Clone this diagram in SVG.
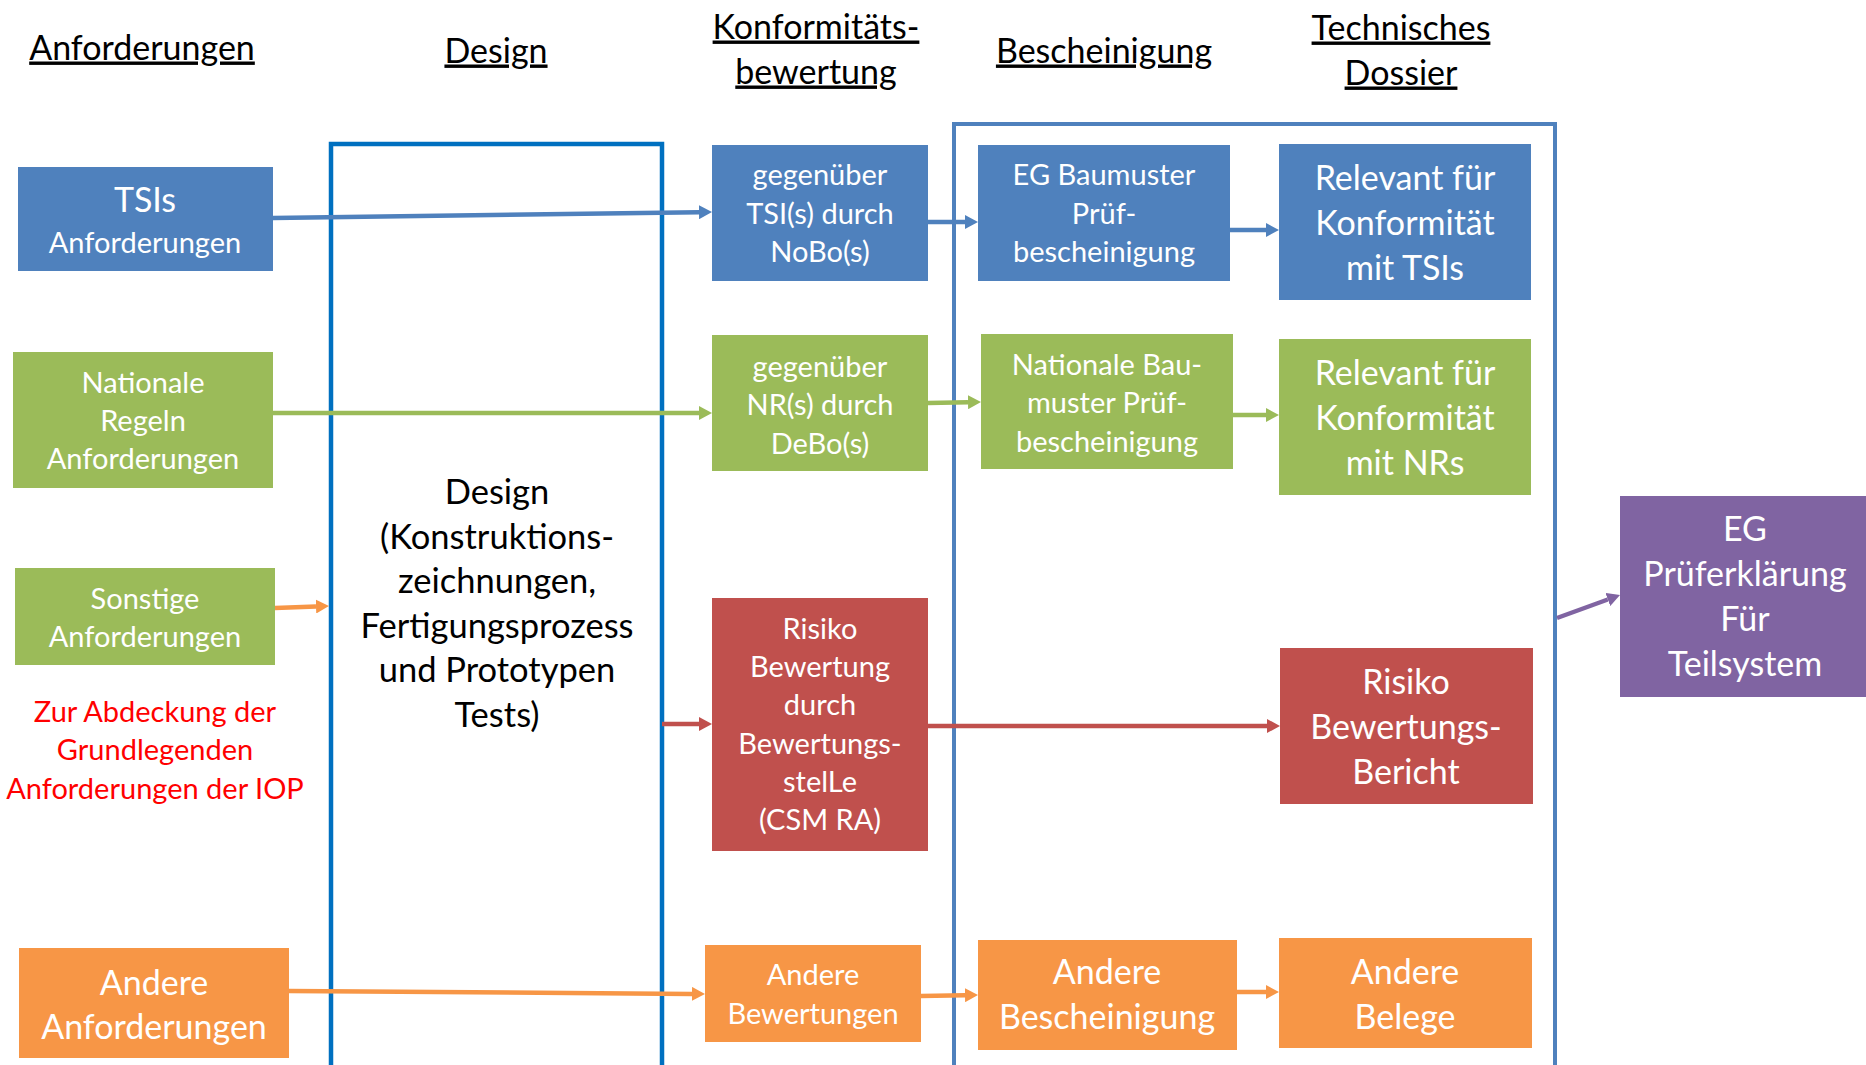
<svg xmlns="http://www.w3.org/2000/svg" width="1866" height="1065" viewBox="0 0 1866 1065">
<defs>
<style>
text{transform:translateY(1.5px)}
.hdr{font-family:Lato,"Open Sans",sans-serif;font-size:34px;fill:#000;text-anchor:middle;text-decoration:underline}
.t{font-family:Lato,"Open Sans",sans-serif;fill:#fff;text-anchor:middle}
.s{font-size:29px}
.l{font-size:34px}
.blue{fill:#4F81BD}
.green{fill:#9BBB59}
.red{fill:#C0504D}
.orange{fill:#F79646}
.purple{fill:#8064A2}
.conn{fill:none;stroke-width:4.5}
</style>
<marker id="mb" markerUnits="userSpaceOnUse" viewBox="0 0 13 14" markerWidth="13" markerHeight="14" refX="0" refY="7" orient="auto"><path d="M0,0 L13,7 L0,14 z" fill="#4F81BD"/></marker>
<marker id="mg" markerUnits="userSpaceOnUse" viewBox="0 0 13 14" markerWidth="13" markerHeight="14" refX="0" refY="7" orient="auto"><path d="M0,0 L13,7 L0,14 z" fill="#9BBB59"/></marker>
<marker id="mr" markerUnits="userSpaceOnUse" viewBox="0 0 13 14" markerWidth="13" markerHeight="14" refX="0" refY="7" orient="auto"><path d="M0,0 L13,7 L0,14 z" fill="#C0504D"/></marker>
<marker id="mo" markerUnits="userSpaceOnUse" viewBox="0 0 13 14" markerWidth="13" markerHeight="14" refX="0" refY="7" orient="auto"><path d="M0,0 L13,7 L0,14 z" fill="#F79646"/></marker>
<marker id="mp" markerUnits="userSpaceOnUse" viewBox="0 0 13 14" markerWidth="13" markerHeight="14" refX="0" refY="7" orient="auto"><path d="M0,0 L13,7 L0,14 z" fill="#8064A2"/></marker>
</defs>
<rect width="1866" height="1065" fill="#fff"/>

<g id="headers">
<text class="hdr" x="142" y="58">Anforderungen</text>
<text class="hdr" x="496" y="61">Design</text>
<text class="hdr" x="816" y="37">Konformitäts-</text>
<text class="hdr" x="816" y="82">bewertung</text>
<text class="hdr" x="1104" y="61">Bescheinigung</text>
<text class="hdr" x="1401" y="38">Technisches</text>
<text class="hdr" x="1401" y="83">Dossier</text>
</g>

<g id="design-box">
<rect x="331" y="144" width="331" height="940" fill="none" stroke="#0070C0" stroke-width="4.5"/>
<g font-family="Lato,'Open Sans',sans-serif" font-size="34.5" fill="#000" text-anchor="middle">
<text x="497" y="502">Design</text>
<text x="497" y="547">(Konstruktions-</text>
<text x="497" y="591">zeichnungen,</text>
<text x="497" y="636">Fertigungsprozess</text>
<text x="497" y="680">und Prototypen</text>
<text x="497" y="725">Tests)</text>
</g>
</g>

<g id="dossier-box">
<rect x="954" y="124" width="601" height="950" fill="none" stroke="#4F81BD" stroke-width="4"/>
</g>

<g id="connectors">
<path class="conn" stroke="#4F81BD" d="M273,218 L699,212.2" marker-end="url(#mb)"/>
<path class="conn" stroke="#4F81BD" d="M928,222 L965,222" marker-end="url(#mb)"/>
<path class="conn" stroke="#4F81BD" d="M1230,230 L1266,230" marker-end="url(#mb)"/>
<path class="conn" stroke="#9BBB59" d="M273,413 L699,413" marker-end="url(#mg)"/>
<path class="conn" stroke="#9BBB59" d="M928,403 L968,402.2" marker-end="url(#mg)"/>
<path class="conn" stroke="#9BBB59" d="M1233,415 L1266,415" marker-end="url(#mg)"/>
<path class="conn" stroke="#F79646" d="M275,608 L316,606.5" marker-end="url(#mo)"/>
<path class="conn" stroke="#C0504D" d="M662,724 L699,724" marker-end="url(#mr)"/>
<path class="conn" stroke="#C0504D" d="M928,726 L1267,726" marker-end="url(#mr)"/>
<path class="conn" stroke="#F79646" d="M289,991 L692,993.9" marker-end="url(#mo)"/>
<path class="conn" stroke="#F79646" d="M921,996 L965,995.2" marker-end="url(#mo)"/>
<path class="conn" stroke="#F79646" d="M1237,992 L1266,992" marker-end="url(#mo)"/>
<path class="conn" stroke="#8064A2" stroke-width="3.5" d="M1557,618 L1607.8,599.5" marker-end="url(#mp)"/>
</g>

<g id="tsis">
<rect class="blue" x="18" y="167" width="255" height="104"/>
<text class="t l" x="145" y="210">TSIs</text>
<text class="t s" x="145" y="251">Anforderungen</text>
</g>
<g id="nationale-regeln">
<rect class="green" x="13" y="352" width="260" height="136"/>
<text class="t s" x="143" y="391">Nationale</text>
<text class="t s" x="143" y="429">Regeln</text>
<text class="t s" x="143" y="467">Anforderungen</text>
</g>
<g id="sonstige">
<rect class="green" x="15" y="568" width="260" height="97"/>
<text class="t s" x="145" y="607">Sonstige</text>
<text class="t s" x="145" y="645">Anforderungen</text>
</g>
<g id="iop-note" font-family="Lato,'Open Sans',sans-serif" font-size="29" fill="#FF0000" text-anchor="middle">
<text x="155" y="720">Zur Abdeckung der</text>
<text x="155" y="758">Grundlegenden</text>
<text x="155" y="797">Anforderungen der IOP</text>
</g>
<g id="andere-anforderungen">
<rect class="orange" x="19" y="948" width="270" height="110"/>
<text class="t l" x="154" y="993">Andere</text>
<text class="t l" x="154" y="1037">Anforderungen</text>
</g>

<g id="gegen-tsi">
<rect class="blue" x="712" y="145" width="216" height="136"/>
<text class="t s" x="820" y="183">gegenüber</text>
<text class="t s" x="820" y="222">TSI(s) durch</text>
<text class="t s" x="820" y="260">NoBo(s)</text>
</g>
<g id="gegen-nr">
<rect class="green" x="712" y="335" width="216" height="136"/>
<text class="t s" x="820" y="375">gegenüber</text>
<text class="t s" x="820" y="413">NR(s) durch</text>
<text class="t s" x="820" y="452">DeBo(s)</text>
</g>
<g id="risiko-bewertung">
<rect class="red" x="712" y="598" width="216" height="253"/>
<text class="t s" x="820" y="637">Risiko</text>
<text class="t s" x="820" y="675">Bewertung</text>
<text class="t s" x="820" y="713">durch</text>
<text class="t s" x="820" y="752">Bewertungs-</text>
<text class="t s" x="820" y="790">stelLe</text>
<text class="t s" x="820" y="828">(CSM RA)</text>
</g>
<g id="andere-bewertungen">
<rect class="orange" x="705" y="945" width="216" height="97"/>
<text class="t s" x="813" y="983">Andere</text>
<text class="t s" x="813" y="1022">Bewertungen</text>
</g>

<g id="eg-baumuster">
<rect class="blue" x="978" y="145" width="252" height="136"/>
<text class="t s" x="1104" y="183">EG Baumuster</text>
<text class="t s" x="1104" y="222">Prüf-</text>
<text class="t s" x="1104" y="260">bescheinigung</text>
</g>
<g id="nationale-baumuster">
<rect class="green" x="981" y="334" width="252" height="135"/>
<text class="t s" x="1107" y="373">Nationale Bau-</text>
<text class="t s" x="1107" y="411">muster Prüf-</text>
<text class="t s" x="1107" y="450">bescheinigung</text>
</g>
<g id="andere-bescheinigung">
<rect class="orange" x="978" y="940" width="259" height="110"/>
<text class="t l" x="1107" y="982">Andere</text>
<text class="t l" x="1107" y="1027">Bescheinigung</text>
</g>

<g id="relevant-tsi">
<rect class="blue" x="1279" y="144" width="252" height="156"/>
<text class="t l" x="1405" y="188">Relevant für</text>
<text class="t l" x="1405" y="233">Konformität</text>
<text class="t l" x="1405" y="278">mit TSIs</text>
</g>
<g id="relevant-nr">
<rect class="green" x="1279" y="339" width="252" height="156"/>
<text class="t l" x="1405" y="383">Relevant für</text>
<text class="t l" x="1405" y="428">Konformität</text>
<text class="t l" x="1405" y="473">mit NRs</text>
</g>
<g id="risiko-bericht">
<rect class="red" x="1280" y="648" width="253" height="156"/>
<text class="t l" x="1406" y="692">Risiko</text>
<text class="t l" x="1406" y="737">Bewertungs-</text>
<text class="t l" x="1406" y="782">Bericht</text>
</g>
<g id="andere-belege">
<rect class="orange" x="1279" y="938" width="253" height="110"/>
<text class="t l" x="1405" y="982">Andere</text>
<text class="t l" x="1405" y="1027">Belege</text>
</g>

<g id="eg-pruferklaerung">
<rect class="purple" x="1620" y="496" width="250" height="201"/>
<text class="t l" x="1745" y="539">EG</text>
<text class="t l" x="1745" y="584">Prüferklärung</text>
<text class="t l" x="1745" y="629">Für</text>
<text class="t l" x="1745" y="674">Teilsystem</text>
</g>
</svg>
